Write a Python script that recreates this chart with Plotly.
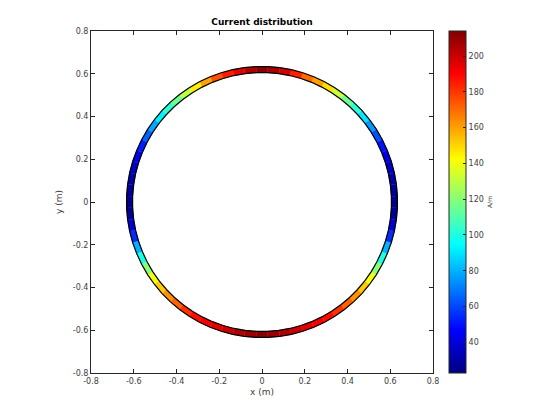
import numpy as np
import plotly.graph_objects as go
from plotly.colors import sample_colorscale

# ---- data ----
# segment centre angles (deg, counter-clockwise from +x) and current density (A/m)
seg_angles = list(range(0, 360, 5))
seg_current = [25, 27, 30, 35, 42, 50, 62, 75, 90, 102, 115, 132, 148, 160, 170, 184, 198, 207,
               212, 205, 195, 185, 175, 160, 145, 130, 115, 103, 92, 78, 65, 52, 43, 36, 30, 27,
               25, 27, 38, 55, 80, 100, 120, 140, 152, 163, 172, 181, 188, 192, 196, 200, 205, 209,
               213, 209, 205, 200, 196, 192, 188, 181, 172, 163, 152, 140, 120, 100, 80, 55, 38, 27]
ring_outer = 0.634
ring_inner = 0.606
c_min, c_max = 22.8, 214.0

axis_ticks = [-0.8, -0.6, -0.4, -0.2, 0, 0.2, 0.4, 0.6, 0.8]
axis_ticklabels = ["-0.8", "-0.6", "-0.4", "-0.2", "0", "0.2", "0.4", "0.6", "0.8"]
cbar_ticks = [40, 60, 80, 100, 120, 140, 160, 180, 200]

jet = [[0.0, "rgb(0,0,128)"], [0.125, "rgb(0,0,255)"], [0.375, "rgb(0,255,255)"],
       [0.625, "rgb(255,255,0)"], [0.875, "rgb(255,0,0)"], [1.0, "rgb(128,0,0)"]]

fig = go.Figure()

half = 2.5
for ang, val in zip(seg_angles, seg_current):
    a0 = np.deg2rad(ang - half)
    a1 = np.deg2rad(ang + half)
    xs = [ring_outer * np.cos(a0), ring_outer * np.cos(a1), ring_inner * np.cos(a1), ring_inner * np.cos(a0)]
    ys = [ring_outer * np.sin(a0), ring_outer * np.sin(a1), ring_inner * np.sin(a1), ring_inner * np.sin(a0)]
    col = sample_colorscale(jet, [(val - c_min) / (c_max - c_min)])[0]
    fig.add_trace(go.Scatter(x=xs, y=ys, fill="toself", fillcolor=col, mode="lines",
                             line=dict(color=col, width=0.6), hoverinfo="skip", showlegend=False))

# black edges of the ring
edge_ang = np.deg2rad(np.array(seg_angles + [360]) - half)
for r in (ring_outer, ring_inner):
    fig.add_trace(go.Scatter(x=r * np.cos(edge_ang), y=r * np.sin(edge_ang), mode="lines",
                             line=dict(color="black", width=1.2), hoverinfo="skip", showlegend=False))

# colour bar carrier
mid_r = 0.5 * (ring_outer + ring_inner)
fig.add_trace(go.Scatter(
    x=mid_r * np.cos(np.deg2rad(seg_angles)), y=mid_r * np.sin(np.deg2rad(seg_angles)),
    mode="markers", hoverinfo="skip", showlegend=False,
    marker=dict(size=1, opacity=0, color=seg_current, colorscale=jet, cmin=c_min, cmax=c_max,
                showscale=True,
                colorbar=dict(x=1.047, xanchor="left", y=0.5, yanchor="middle", len=1, lenmode="fraction",
                              thickness=17, thicknessmode="pixels", outlinecolor="#262626", outlinewidth=1,
                              ticks="inside", ticklen=3, tickcolor="#262626", tickvals=cbar_ticks,
                              tickfont=dict(size=8, color="#404040", family="DejaVu Sans"),
                              xpad=0, ypad=0,
                              title=dict(text="A/m", side="right", font=dict(size=6, color="#404040"))))))

axis_common = dict(range=[-0.8, 0.8], tickvals=axis_ticks, ticktext=axis_ticklabels,
                   ticks="inside", ticklen=4, tickcolor="#262626", showline=True, linecolor="#262626",
                   linewidth=1, mirror="allticks", showgrid=False, zeroline=False,
                   tickfont=dict(size=8, color="#404040", family="DejaVu Sans"))

fig.update_layout(
    width=552, height=412, margin=dict(l=83, r=127, t=23, b=47, autoexpand=False),
    paper_bgcolor="white", plot_bgcolor="white",
    font=dict(family="DejaVu Sans", color="#262626"),
    title=dict(text="<b>Current distribution</b>", x=0.5, xanchor="center", xref="paper",
               y=1 - 14 / 412, yref="container", yanchor="middle", font=dict(size=9, color="black")),
    xaxis=dict(**axis_common, title=dict(text="x (m)", font=dict(size=9, color="#404040"), standoff=4)),
    yaxis=dict(**axis_common, title=dict(text="y (m)", font=dict(size=9, color="#404040"), standoff=8)),
)

fig.write_html("out.html")
